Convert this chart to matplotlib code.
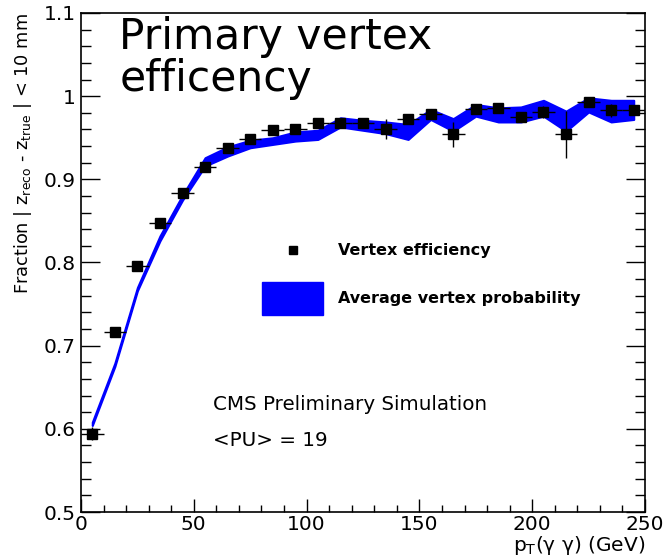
import numpy as np
import matplotlib
matplotlib.use("Agg")
import matplotlib.pyplot as plt
from matplotlib.lines import Line2D
from matplotlib.patches import Patch
from matplotlib.legend_handler import HandlerLine2D
from matplotlib.ticker import MultipleLocator

plt.rcParams['font.family'] = ['DejaVu Sans']
plt.rcParams['mathtext.fontset'] = 'dejavusans'

# bin centres (GeV)
pt = [5, 15, 25, 35, 45, 55, 65, 75, 85, 95, 105, 115, 125,
      135, 145, 155, 165, 175, 185, 195, 205, 215, 225, 235, 245]

# vertex efficiency (points)
eff = [0.594, 0.717, 0.796, 0.847, 0.883, 0.915, 0.938, 0.949, 0.959, 0.960,
       0.968, 0.968, 0.968, 0.960, 0.973, 0.979, 0.954, 0.984, 0.986, 0.975,
       0.981, 0.954, 0.993, 0.983, 0.983]
eff_err = [0.008, 0.005, 0.004, 0.004, 0.004, 0.004, 0.004, 0.004, 0.005, 0.005,
           0.004, 0.004, 0.005, 0.012, 0.006, 0.005, 0.015, 0.005, 0.005, 0.005,
           0.007, 0.028, 0.005, 0.008, 0.006]

# average vertex probability (band)
prob_lo = [0.604, 0.675, 0.766, 0.826, 0.875, 0.916, 0.928, 0.938, 0.942, 0.946,
           0.948, 0.963, 0.959, 0.955, 0.948, 0.972, 0.958, 0.976, 0.969, 0.969,
           0.976, 0.958, 0.981, 0.969, 0.972]
prob_hi = [0.608, 0.679, 0.770, 0.832, 0.881, 0.926, 0.939, 0.947, 0.950, 0.957,
           0.959, 0.974, 0.971, 0.969, 0.966, 0.984, 0.973, 0.990, 0.986, 0.987,
           0.995, 0.982, 0.998, 0.995, 0.995]

yticks = [0.5, 0.6, 0.7, 0.8, 0.9, 1.0, 1.1]
ylabels = ['0.5', '0.6', '0.7', '0.8', '0.9', '1', '1.1']


class CenteredMarker(HandlerLine2D):
    # put the legend marker in the middle of its (tall) handle box
    def create_artists(self, legend, orig_handle, xdescent, ydescent,
                       width, height, fontsize, trans):
        arts = super().create_artists(legend, orig_handle, xdescent, ydescent,
                                      width, height, fontsize, trans)
        for a in arts:
            a.set_ydata([height / 2 - ydescent] * len(a.get_xdata()))
        return arts


fig = plt.figure(figsize=(6.64, 5.6), dpi=100)
ax = fig.add_axes([81/664, 48/560, 564/664, 499/560])

ax.fill_between(pt, prob_lo, prob_hi, color='blue', edgecolor='blue', lw=1.5, zorder=2)
ax.errorbar(pt, eff, yerr=eff_err, xerr=5, fmt='s', color='black', ms=7.5,
            ecolor='black', elinewidth=1, capsize=0, zorder=3)

ax.set_xlim(0, 250)
ax.set_ylim(0.5, 1.1)
ax.xaxis.set_major_locator(MultipleLocator(50))
ax.xaxis.set_minor_locator(MultipleLocator(10))
ax.set_yticks(yticks)
ax.set_yticklabels(ylabels)
ax.yaxis.set_minor_locator(MultipleLocator(0.02))
ax.tick_params(axis='both', which='both', direction='in', labelsize=14.5, color='black')
ax.tick_params(axis='y', which='major', length=13.5, right=True, width=1, pad=4)
ax.tick_params(axis='y', which='minor', length=7, right=True, width=1)
ax.tick_params(axis='x', which='major', length=9.5, top=False, width=1, pad=2)
ax.tick_params(axis='x', which='minor', length=5, top=False, width=1)
for s in ax.spines.values():
    s.set_linewidth(1.2)

ax.set_xlabel(r'p$_{\mathrm{T}}$(γ γ) (GeV)', fontsize=14.5, loc='right')
ax.xaxis.set_label_coords(1.0, -0.045)
ax.set_ylabel(r'Fraction $|$ z$_{\mathrm{reco}}$ - z$_{\mathrm{true}}$ $|$ < 10 mm',
              fontsize=12.8, loc='top')
ax.yaxis.set_label_coords(-0.083, 1.0)

ax.text(0.068, 0.993, 'Primary vertex\nefficency', transform=ax.transAxes,
        fontsize=30.5, va='top', ha='left', linespacing=1.0)

ax.text(0.234, 0.215, 'CMS Preliminary Simulation', transform=ax.transAxes,
        fontsize=14.3, va='center', ha='left')
ax.text(0.234, 0.143, '<PU> = 19', transform=ax.transAxes,
        fontsize=14.3, va='center', ha='left')

handles = [Line2D([], [], marker='s', color='black', ls='none', ms=5.5),
           Patch(facecolor='blue', edgecolor='blue')]
leg = ax.legend(handles, ['Vertex efficiency', 'Average vertex probability'],
                handler_map={Line2D: CenteredMarker()},
                loc='upper left', bbox_to_anchor=(0.321, 0.558), frameon=False,
                borderpad=0, borderaxespad=0, handlelength=3.82, handleheight=2.8,
                handletextpad=0.94, labelspacing=0.94,
                prop={'weight': 'bold', 'size': 11.5})

fig.savefig('out.png', dpi=100)
